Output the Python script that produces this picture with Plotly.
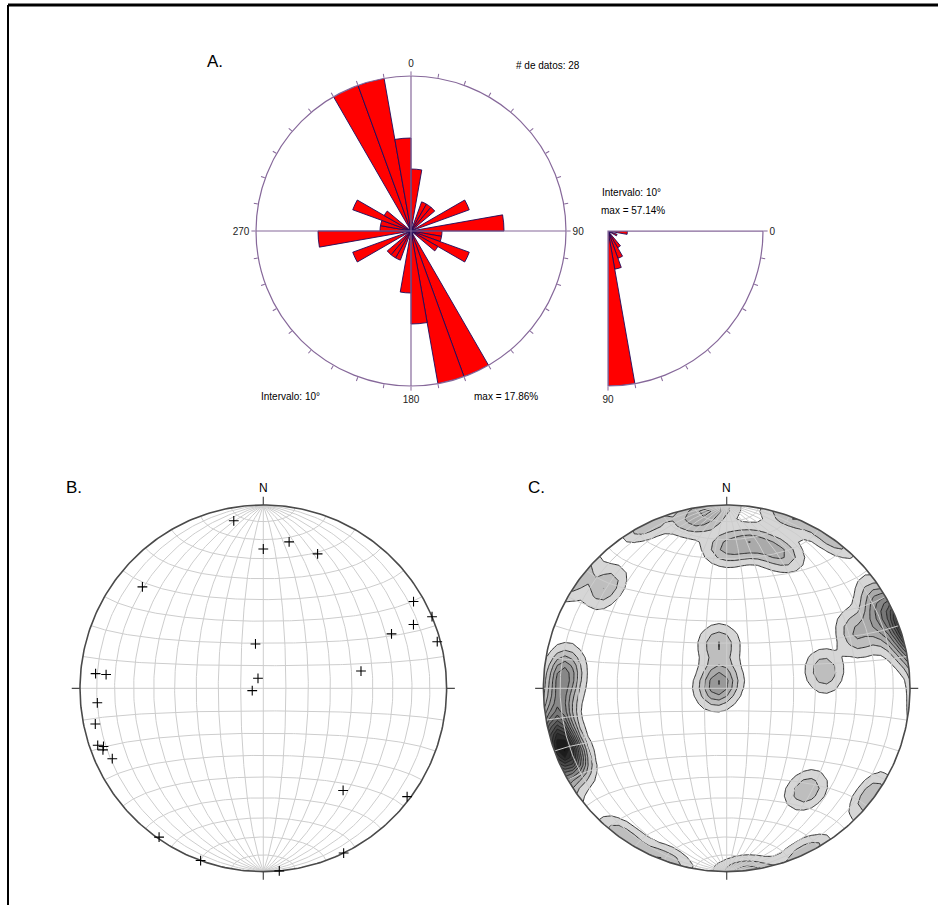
import numpy as np
import plotly.graph_objects as go

# ---------------------------------------------------------------
# Data
# ---------------------------------------------------------------
# Strike rose (bidirectional), number of planes per 10° class, 0-180
strike_bin_start = list(range(0, 180, 10))
strike_counts = [2, 0, 1, 1, 1, 0, 2, 0, 3, 1, 1, 2, 1, 0, 0, 5, 5, 3]

# Dip rose, number of planes per 10° class, 0-90
dip_bin_start = list(range(0, 90, 10))
dip_counts = [2, 0, 1, 0, 0, 2, 3, 4, 16]

# Poles to planes, trend / plunge (degrees), lower hemisphere
pole_trend = [350, 10, 0, 22, 310, 60, 67, 67, 67, 75, 350, 275, 275, 80,
              332, 258, 265, 258, 251, 250, 249, 245, 142, 127, 215, 200,
              154, 175]
pole_plunge = [8, 20, 25, 22, 15, 6, 0, 12, 25, 2, 70, 9, 15, 45,
               85, 85, 10, 7, 5, 8, 7, 10, 30, 2, 1, 0, 0, 0]

n_data = len(pole_trend)
bin_width = 10

# ---------------------------------------------------------------
# Styles
# ---------------------------------------------------------------
FONT = "Liberation Sans, Arial, sans-serif"
ROSE_LINE = "#86689a"
PETAL_EDGE = "#1c0c5c"
PETAL_FILL = "#ff0000"
NET_GRID = "#cdcdcd"
NET_RIM = "#4a4a4a"
W, H = 938, 905


def px_x(v):
    return v / W


def px_y(v):
    return 1 - v / H


fig = go.Figure()

# ---------------------------------------------------------------
# A. Strike rose
# ---------------------------------------------------------------
strike_pct = [c / n_data * 100 for c in strike_counts]
rose_r = strike_pct + strike_pct          # opposite directions
rose_theta = [b + bin_width / 2 for b in strike_bin_start] + \
             [b + 180 + bin_width / 2 for b in strike_bin_start]
rose_max = max(strike_pct)

fig.add_trace(go.Scatterpolar(
    r=[rose_max, 0, rose_max, None, rose_max, 0, rose_max],
    theta=[0, 0, 180, None, 90, 90, 270],
    mode="lines", line=dict(color=ROSE_LINE, width=1.2),
    subplot="polar", showlegend=False, hoverinfo="skip"))
fig.add_trace(go.Barpolar(
    r=rose_r, theta=rose_theta, width=[bin_width] * len(rose_r),
    marker=dict(color=PETAL_FILL, line=dict(color=PETAL_EDGE, width=0.9)),
    subplot="polar", showlegend=False))

# Dip rose (quarter)
dip_pct = [c / n_data * 100 for c in dip_counts]
dip_theta = [b + bin_width / 2 for b in dip_bin_start]
dip_max = max(dip_pct)

fig.add_trace(go.Scatterpolar(
    r=[dip_max, 0, dip_max], theta=[0, 0, 90],
    mode="lines", line=dict(color=ROSE_LINE, width=1.2),
    subplot="polar2", showlegend=False, hoverinfo="skip"))
fig.add_trace(go.Barpolar(
    r=dip_pct, theta=dip_theta, width=[bin_width] * len(dip_pct),
    marker=dict(color=PETAL_FILL, line=dict(color=PETAL_EDGE, width=0.9)),
    subplot="polar2", showlegend=False))

card_ticks = list(range(0, 360, 10))
card_text = [str(t) if t % 90 == 0 else "" for t in card_ticks]
dip_ticks = list(range(0, 100, 10))
dip_text = [str(t) if t in (0, 90) else "" for t in dip_ticks]

angular_common = dict(
    direction="clockwise", tickmode="array", ticks="outside", ticklen=4,
    tickcolor=ROSE_LINE, linecolor=ROSE_LINE, linewidth=1.2, showgrid=False,
    tickfont=dict(family=FONT, size=10, color="#222222"))

fig.update_layout(
    polar=dict(
        domain=dict(x=[px_x(256), px_x(566)], y=[px_y(386), px_y(76)]),
        bgcolor="white",
        angularaxis=dict(rotation=90, tickvals=card_ticks, ticktext=card_text,
                         **angular_common),
        radialaxis=dict(visible=False, range=[0, rose_max])),
    polar2=dict(
        domain=dict(x=[px_x(608), px_x(763)], y=[px_y(386), px_y(231)]),
        sector=[-90, 0], bgcolor="white",
        angularaxis=dict(rotation=0, tickvals=dip_ticks, ticktext=dip_text,
                         **angular_common),
        radialaxis=dict(visible=False, range=[0, dip_max])),
)

# ---------------------------------------------------------------
# Equal-area (Schmidt) net helpers, lower hemisphere, unit radius
# ---------------------------------------------------------------
def project(n, e, d):
    s = 1.0 / np.sqrt(1.0 + d)
    return e * s, n * s


def net_lines():
    xs, ys = [], []
    a = np.radians(np.linspace(0, 180, 181))
    for ang in range(10, 180, 10):
        g = np.radians(ang)
        # great circles through N and S
        x, y = project(np.cos(a), np.sin(a) * np.cos(g), np.sin(a) * np.sin(g))
        xs += list(x) + [None]
        ys += list(y) + [None]
        # small circles about the N-S axis
        x, y = project(np.cos(g) * np.ones_like(a), np.sin(g) * np.cos(a),
                       np.sin(g) * np.sin(a))
        xs += list(x) + [None]
        ys += list(y) + [None]
    return xs, ys


circ = np.radians(np.linspace(0, 360, 361))
rim_x, rim_y = np.cos(circ), np.sin(circ)
grid_x, grid_y = net_lines()

tick_x, tick_y = [], []
for az in (0, 90, 180, 270):
    t = np.radians(az)
    tick_x += [np.sin(t), 1.045 * np.sin(t), None]
    tick_y += [np.cos(t), 1.045 * np.cos(t), None]

tr = np.radians(pole_trend)
pl = np.radians(pole_plunge)
pn, pe, pd_ = np.cos(pl) * np.cos(tr), np.cos(pl) * np.sin(tr), np.sin(pl)
pole_x, pole_y = project(pn, pe, pd_)


def add_net(xa, ya):
    fig.add_trace(go.Scatter(x=grid_x, y=grid_y, mode="lines",
                             line=dict(color=NET_GRID, width=1),
                             xaxis=xa, yaxis=ya, showlegend=False,
                             hoverinfo="skip"))
    fig.add_trace(go.Scatter(x=rim_x, y=rim_y, mode="lines",
                             line=dict(color=NET_RIM, width=1.6),
                             xaxis=xa, yaxis=ya, showlegend=False,
                             hoverinfo="skip"))
    fig.add_trace(go.Scatter(x=tick_x, y=tick_y, mode="lines",
                             line=dict(color=NET_RIM, width=1.2),
                             xaxis=xa, yaxis=ya, showlegend=False,
                             hoverinfo="skip"))


# ---------------------------------------------------------------
# C. Density contours of the poles (Fisher kernel, axial data)
# ---------------------------------------------------------------
gx = np.linspace(-1.05, 1.05, 51)
GX, GY = np.meshgrid(gx, gx)
rho = np.sqrt(GX ** 2 + GY ** 2)
valid = rho <= 1.40
theta = 2 * np.arcsin(np.clip(rho / np.sqrt(2), 0, 1))
az = np.arctan2(GX, GY)
vn, ve, vd = np.sin(theta) * np.cos(az), np.sin(theta) * np.sin(az), np.cos(theta)

kappa = 98.0
density = np.zeros_like(GX)
for i in range(n_data):
    c = np.abs(vn * pn[i] + ve * pe[i] + vd * pd_[i])
    density += np.exp(kappa * (c - 1.0))
density = np.where(valid, density, np.nan)

lev_start, lev_size = 0.3, 0.35
peak = np.nanmax(np.where(rho <= 1.0, density, np.nan))
n_lev = int(np.floor((peak - lev_start) / lev_size)) + 1
lev_end = lev_start + (n_lev - 1) * lev_size
# one grey per band: white below the first level, then darker upwards
band_scale = []
for j in range(n_lev + 1):
    if j == 0:
        g = 255
    else:
        g = int(round(214 - 200 * ((j - 1) / (n_lev - 1)) ** 0.85))
    band_scale.append([j / n_lev, f"rgb({g},{g},{g})"])

fig.add_trace(go.Contour(
    x=gx, y=gx, z=density, xaxis="x2", yaxis="y2",
    showscale=False, hoverinfo="skip",
    contours=dict(start=lev_start, end=lev_end, size=lev_size,
                  coloring="fill"),
    line=dict(color="#1e1e1e", width=0.9, smoothing=0),
    colorscale=band_scale))

# white surround outside the primitive circle
mask_x = list(np.cos(circ)) + [1.1, 1.1, -1.1, -1.1, 1.1, 1.1]
mask_y = list(np.sin(circ)) + [0, -1.1, -1.1, 1.1, 1.1, 0]
fig.add_trace(go.Scatter(x=mask_x, y=mask_y, mode="lines", fill="toself",
                         fillcolor="white", line=dict(width=0),
                         xaxis="x2", yaxis="y2", showlegend=False,
                         hoverinfo="skip"))

# ---------------------------------------------------------------
# B. Poles to planes
# ---------------------------------------------------------------
add_net("x", "y")
fig.add_trace(go.Scatter(
    x=pole_x, y=pole_y, mode="markers",
    marker=dict(symbol="cross-thin", size=7, line=dict(color="black", width=1.1)),
    xaxis="x", yaxis="y", showlegend=False))

add_net("x2", "y2")

# ---------------------------------------------------------------
# Axes placement
# ---------------------------------------------------------------
R_PX = 183.3
SPAN = 1.1
half = SPAN * R_PX
cy = 688.3
net_ax = dict(range=[-SPAN, SPAN], visible=False, fixedrange=True)
fig.update_layout(
    xaxis=dict(domain=[px_x(263.3 - half), px_x(263.3 + half)], **net_ax),
    yaxis=dict(domain=[px_y(cy + half), px_y(cy - half)], **net_ax),
    xaxis2=dict(domain=[px_x(726.7 - half), px_x(726.7 + half)], **net_ax),
    yaxis2=dict(domain=[px_y(cy + half), px_y(cy - half)], **net_ax),
)

# ---------------------------------------------------------------
# Text
# ---------------------------------------------------------------
def label(text, x, y, size=10, xanchor="center"):
    fig.add_annotation(text=text, x=px_x(x), y=px_y(y), xref="paper",
                       yref="paper", showarrow=False, xanchor=xanchor,
                       yanchor="middle",
                       font=dict(family=FONT, size=size, color="black"))


label("A.", 215, 62, size=17)
label("B.", 74, 487, size=17)
label("C.", 536, 487, size=17)
label(f"# de datos: {n_data}", 548, 65)
label(f"Intervalo: {bin_width}°", 290, 397)
label(f"max = {rose_max:.2f}%", 506, 397)
label(f"Intervalo: {bin_width}°", 631, 193)
label(f"max = {dip_max:.2f}%", 633, 211)

for xa, ya in (("x", "y"), ("x2", "y2")):
    fig.add_annotation(text="N", x=0, y=1.045, xref=xa, yref=ya,
                       showarrow=False, yanchor="bottom",
                       font=dict(family=FONT, size=12, color="black"))

# frame
fig.add_shape(type="line", xref="paper", yref="paper", x0=px_x(8), x1=1,
              y0=px_y(5), y1=px_y(5), line=dict(color="black", width=3))
fig.add_shape(type="line", xref="paper", yref="paper", x0=px_x(8), x1=px_x(8),
              y0=0, y1=px_y(5), line=dict(color="black", width=2))

fig.update_layout(width=W, height=H, margin=dict(l=0, r=0, t=0, b=0),
                  paper_bgcolor="white", plot_bgcolor="white",
                  showlegend=False)

fig.write_html("out.html")
